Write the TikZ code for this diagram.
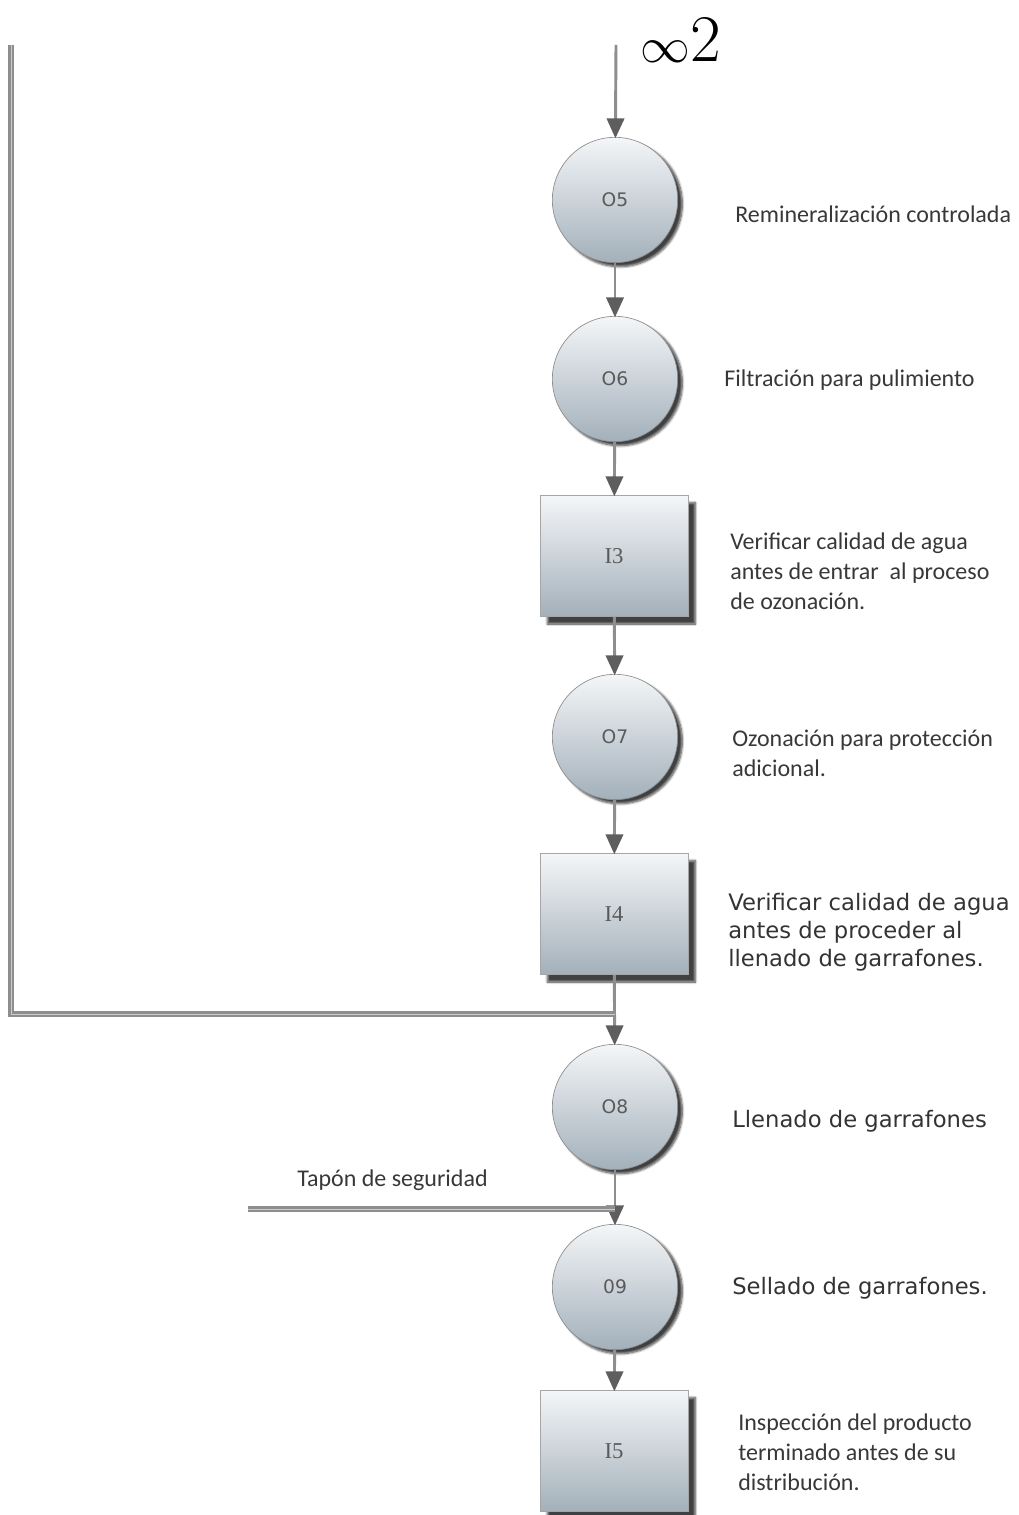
\documentclass[tikz,border=0pt]{standalone}
\usepackage{fontspec}
\setmainfont{Latin Modern Roman}
\newfontfamily\calfnt{Carlito}
\newfontfamily\verfnt{DejaVu Sans}
\newfontfamily\camfnt{Liberation Serif}
\usetikzlibrary{arrows.meta,shadows.blur}
\definecolor{topc}{HTML}{F4F6F8}
\definecolor{botc}{HTML}{A3B0BA}
\definecolor{txt}{HTML}{383838}
\definecolor{lbl}{HTML}{5A5A5A}
\definecolor{lnc}{HTML}{8E8E8E}
\definecolor{tipc}{HTML}{5E5E5E}
\tikzset{
  opc/.style={circle, minimum size=94pt, inner sep=0pt, draw=black!45, line width=0.5pt,
    top color=topc, bottom color=botc,
    blur shadow={shadow xshift=3.5pt, shadow yshift=-3pt, shadow blur steps=6, shadow opacity=75},
    font=\verfnt\fontsize{14}{16}\selectfont, text=lbl},
  insp/.style={rectangle, minimum width=111pt, minimum height=91pt, inner sep=0pt, draw=black!35, line width=0.5pt,
    top color=topc, bottom color=botc,
    blur shadow={shadow xshift=5.5pt, shadow yshift=-5.5pt, shadow blur steps=6, shadow opacity=75},
    font=\camfnt\fontsize{17}{19}\selectfont, text=lbl},
  arr/.style={draw=lnc, line width=2.2pt, -{Triangle[width=13pt,length=15pt,fill=tipc,color=tipc]}, shorten >=-1pt},
  feed/.style={draw=lnc, line width=2.1pt, double=black!20, double distance=0.6pt},
  ctext/.style={anchor=west, align=left, text=txt, inner sep=0pt, font=\calfnt\fontsize{18}{22.5}\selectfont},
  vtext/.style={anchor=west, align=left, text=black!80, inner sep=0pt, font=\verfnt\fontsize{17}{21}\selectfont},
}
\begin{document}
\begin{tikzpicture}[x=0.75pt, y=-0.75pt]
\useasboundingbox (0,0) rectangle (1018,1515);
\node[anchor=west, inner sep=0pt, font=\fontsize{50}{54}\selectfont] (inf) at (640,40) {\raisebox{-1pt}{\scalebox{1.5}{$\infty$}}2};
\coordinate (top) at (616,45);
\node[opc] (o5) at (615,200) {O5};
\node[opc] (o6) at (615,379) {O6};
\node[insp] (i3) at (614,556) {I3};
\node[opc] (o7) at (615,737) {O7};
\node[insp] (i4) at (614,914) {I4};
\node[opc] (o8) at (615,1107) {O8};
\node[opc] (o9) at (615,1287) {09};
\node[insp] (i5) at (614,1451) {I5};

\coordinate (lt) at (11,45);
\coordinate (lj) at (615,1014);
\coordinate (tp) at (248,1209);
\coordinate (tj) at (615,1209);

\draw[arr] (top) -- (o5);
\draw[arr] (o5) -- (o6);
\draw[arr] (o6) -- (i3);
\draw[arr] (i3) -- (o7);
\draw[arr] (o7) -- (i4);
\draw[arr] (i4) -- (o8);
\draw[arr] (o8) -- (o9);
\draw[arr] (o9) -- (i5);
\draw[feed] (lt) |- (lj);
\draw[feed] (tp) -- (tj);

\node[ctext] (t5) at (735,214) {Remineralización controlada};
\node[ctext] (t6) at (724,380) {Filtración para pulimiento};
\node[ctext] (t3) at (730,571) {Verificar calidad de agua\\antes de entrar\ \ al proceso\\de ozonación.};
\node[ctext] (t7) at (732,753) {Ozonación para protección\\adicional.};
\node[vtext] (t4) at (728,932) {Verificar calidad de agua\\antes de proceder al\\llenado de garrafones.};
\node[vtext] (t8) at (732,1121) {Llenado de garrafones};
\node[ctext] (tt) at (297,1180) {Tapón de seguridad};
\node[vtext] (t9) at (732,1288) {Sellado de garrafones.};
\node[ctext] (ti5) at (738,1452) {Inspección del producto\\terminado antes de su\\distribución.};
\end{tikzpicture}
\end{document}
